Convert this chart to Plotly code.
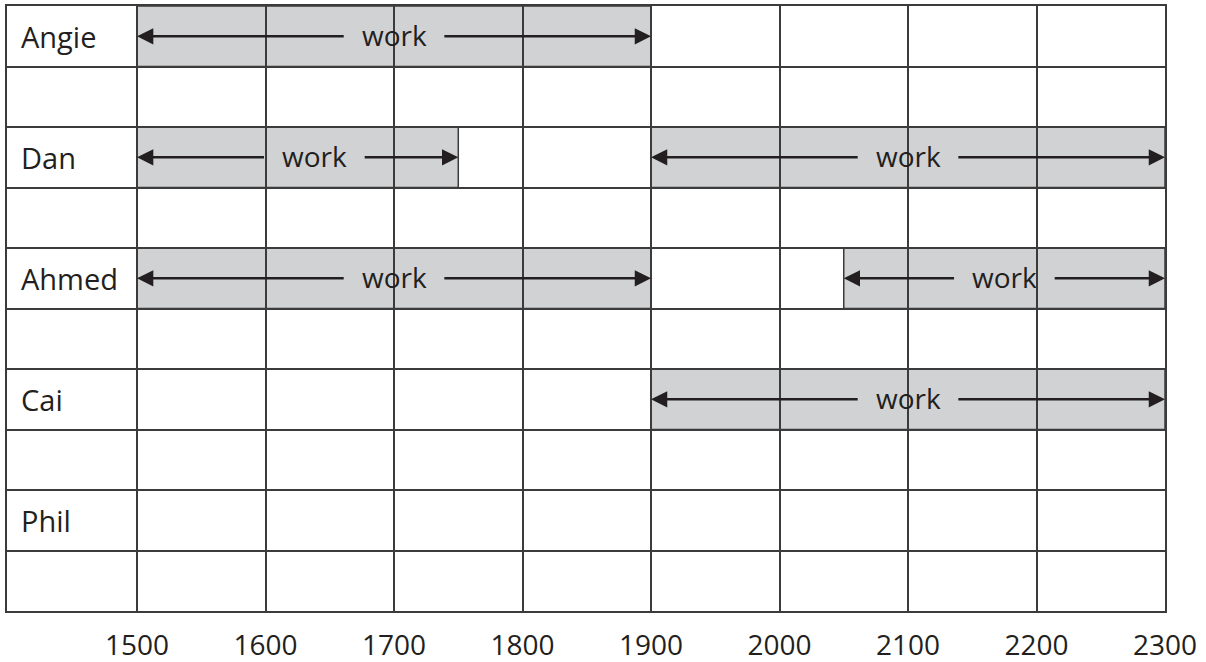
import plotly.graph_objects as go

# ---- data ----
names = ["Angie", "", "Dan", "", "Ahmed", "", "Cai", "", "Phil", ""]
years = [1500, 1600, 1700, 1800, 1900, 2000, 2100, 2200, 2300]
tick_labels = [str(y) for y in years]

# work periods: (row index, start, end, label position)
work_rows = [0, 2, 2, 4, 4, 6]
work_start = [1500, 1500, 1900, 1500, 2050, 1900]
work_end = [1900, 1750, 2300, 1900, 2300, 2300]
work_label_x = [1700, 1638, 2100, 1700, 2175, 2100]
work_text = "work"

# ---- style ----
X_LEFT = 1398.8
X_RIGHT = 2300
GRID = "#3b3b3b"
FILL = "#d1d2d4"
INK = "#231f20"
FONT = "Open Sans"
GAP = 38  # half gap (data units) around label

fig = go.Figure()
fig.add_trace(go.Scatter(x=[X_LEFT, X_RIGHT], y=[0, 10], mode="markers",
                         marker=dict(opacity=0), hoverinfo="skip", showlegend=False))

shapes = []
for r, s, e in zip(work_rows, work_start, work_end):
    shapes.append(dict(type="rect", xref="x", yref="y", x0=s, x1=e, y0=r, y1=r + 1,
                       fillcolor=FILL, line=dict(color=GRID, width=1.5), layer="below"))

annotations = []
for i, n in enumerate(names):
    if n:
        annotations.append(dict(x=0, xref="paper", y=i + 0.5, yref="y", text=n,
                                xanchor="left", yanchor="middle", xshift=12, yshift=0,
                                showarrow=False, font=dict(family=FONT, size=29, color=INK)))

for r, s, e, lx in zip(work_rows, work_start, work_end, work_label_x):
    yc = r + 0.5
    annotations.append(dict(x=lx, y=yc, xref="x", yref="y", text=work_text, showarrow=False,
                            font=dict(family=FONT, size=28, color=INK), yshift=1))
    for tip, tail in ((s, lx - GAP), (e, lx + GAP)):
        annotations.append(dict(x=tip, y=yc, xref="x", yref="y", ax=tail, ay=yc,
                                axref="x", ayref="y", text="", showarrow=True,
                                arrowhead=2, arrowsize=1.25, arrowwidth=2.6,
                                arrowcolor=INK, standoff=0, startstandoff=0))

fig.update_layout(
    width=1206, height=662,
    margin=dict(l=7, r=41, t=6, b=51, autoexpand=False),
    paper_bgcolor="white", plot_bgcolor="white",
    shapes=shapes, annotations=annotations,
    showlegend=False,
    xaxis=dict(range=[X_LEFT, X_RIGHT], tickvals=years, ticktext=tick_labels,
               showgrid=True, gridcolor=GRID, gridwidth=1.5, zeroline=False,
               showline=True, mirror=True, linecolor=GRID, linewidth=1.5,
               ticks="outside", ticklen=9, tickcolor="rgba(0,0,0,0)", automargin=False,
               tickfont=dict(family=FONT, size=28, color=INK), fixedrange=True),
    yaxis=dict(range=[10, 0], tickvals=list(range(11)), showticklabels=False,
               showgrid=True, gridcolor=GRID, gridwidth=1.5, zeroline=False,
               showline=True, mirror=True, linecolor=GRID, linewidth=1.5,
               ticks="", automargin=False, fixedrange=True),
)

fig.write_html("out.html", config={"displayModeBar": False},
               post_script="document.body.style.margin='0';")
